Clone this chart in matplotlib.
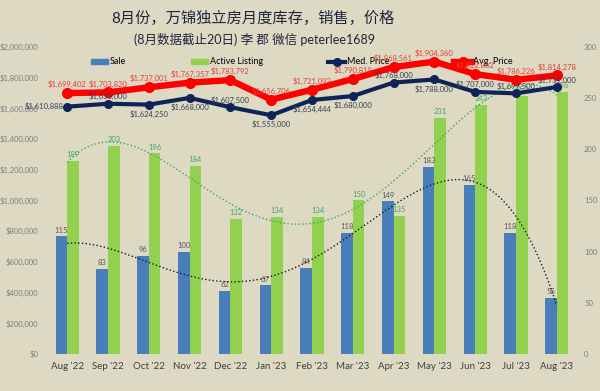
"""8月份 万锦独立房 月度库存/销售/价格 combo chart."""

import matplotlib
matplotlib.use("Agg")

import matplotlib.pyplot as plt
import numpy as np
from matplotlib.lines import Line2D
from matplotlib.patches import Patch

plt.rcParams["font.family"] = ["Lato", "Noto Sans CJK SC", "DejaVu Sans"]

# ---------------------------------------------------------------------------
# Data
# ---------------------------------------------------------------------------
months = ["Aug '22", "Sep '22", "Oct '22", "Nov '22", "Dec '22", "Jan '23",
          "Feb '23", "Mar '23", "Apr '23", "May '23", "Jun '23", "Jul '23",
          "Aug '23"]
sale = [115, 83, 96, 100, 62, 67, 84, 118, 149, 183, 165, 118, 55]
active = [189, 203, 196, 184, 132, 134, 134, 150, 135, 231, 243, 252, 256]
med_price = [1610888, 1630000, 1624250, 1668000, 1607500, 1555000, 1654444,
             1680000, 1768000, 1788000, 1707000, 1697500, 1739000]
avg_price = [1699402, 1703820, 1737001, 1767357, 1783792, 1656706, 1721093,
             1790818, 1868561, 1904360, 1822862, 1786226, 1814278]

# where the median-price label sits relative to its point
med_pos = ["left", "above", "below", "below", "above", "below", "below",
           "below", "above", "below", "above", "above", "above"]

# ---------------------------------------------------------------------------
# Style
# ---------------------------------------------------------------------------
BG = "#DDD9C3"
C_SALE = "#4A7EBB"
C_ACT = "#92D050"
C_ACT_TXT = "#3DAA5A"
C_MED = "#0E2458"
C_AVG = "#FF0000"
C_AVG_TXT = "#E2403A"
C_MED_TXT = "#3B4057"
C_GRAY = "#595959"
LBL = 5.5

fig = plt.figure(figsize=(6.0, 3.91), dpi=100, facecolor=BG)
ax = fig.add_axes([0.078, 0.0946, 0.884, 0.7854])   # bars (right scale)
ax2 = ax.twinx()                                     # prices (left scale)
ax.set_facecolor(BG)
ax2.patch.set_visible(False)

x = np.arange(len(months))
bw = 0.285

# ── Bars ───────────────────────────────────────────────────────────────────
ax.bar(x - bw / 2, sale, bw, color=C_SALE, zorder=2)
ax.bar(x + bw / 2, active, bw, color=C_ACT, zorder=2)

for xi, v in zip(x, sale):
    ax.annotate(str(v), (xi - bw / 2, v), xytext=(0, 2), textcoords="offset points",
                ha="center", va="bottom", fontsize=LBL, color=C_GRAY, zorder=3)
for xi, v in zip(x, active):
    ax.annotate(str(v), (xi + bw / 2, v), xytext=(0, 2), textcoords="offset points",
                ha="center", va="bottom", fontsize=LBL, color=C_ACT_TXT, zorder=3)

# Polynomial trendlines
xs = np.linspace(0, 12, 300)
p_sale = np.polynomial.Polynomial.fit(x, sale, 4)
p_act = np.polynomial.Polynomial.fit(x, active, 4)
ax.plot(xs, p_sale(xs), ":", color="#1a1a1a", lw=1.0, zorder=3)
ax.plot(xs, p_act(xs), ":", color=C_ACT_TXT, lw=1.0, zorder=3)

ax.set_ylim(0, 300)
ax.set_yticks(np.arange(0, 301, 50))
ax.set_xlim(-0.5, 12.5)
ax.set_xticks(x)
ax.set_xticklabels(months)
ax.yaxis.tick_right()
ax.tick_params(axis="y", length=0, pad=5, labelsize=5.5, labelcolor="#7F7F7F")
ax.tick_params(axis="x", length=0, pad=6, labelsize=7, labelcolor="#404040")

# ── Price lines ────────────────────────────────────────────────────────────
ax2.plot(x, avg_price, "-o", color=C_AVG, lw=4.6, ms=7, zorder=4)
ax2.plot(x, med_price, "-o", color=C_MED, lw=3.0, ms=5.5, zorder=5)

for xi, v in zip(x, avg_price):
    ax2.annotate(f"${v:,}", (xi, v), xytext=(0, 3.5), textcoords="offset points",
                 ha="center", va="bottom", fontsize=LBL, color=C_AVG_TXT, zorder=6)
for xi, v, pos in zip(x, med_price, med_pos):
    if pos == "left":
        off, ha, va = (-3, 0), "right", "center"
    elif pos == "above":
        off, ha, va = (0, 2.5), "center", "bottom"
    else:
        off, ha, va = (0, -4), "center", "top"
    ax2.annotate(f"${v:,}", (xi, v), xytext=off, textcoords="offset points",
                 ha=ha, va=va, fontsize=LBL, color=C_MED_TXT, zorder=6)

ax2.set_ylim(0, 2000000)
ax2.set_yticks(np.arange(0, 2000001, 200000))
ax2.set_yticklabels([f"${v:,}" for v in range(0, 2000001, 200000)])
ax2.yaxis.tick_left()
ax2.tick_params(axis="y", length=0, pad=6, labelsize=5.5, labelcolor="#7F7F7F")

for a in (ax, ax2):
    for s in a.spines.values():
        s.set_visible(False)

# ── Legend ─────────────────────────────────────────────────────────────────
handles = [
    Patch(color=C_SALE),
    Patch(color=C_ACT),
    Line2D([], [], color=C_MED, lw=3, marker="o", ms=5.5),
    Line2D([], [], color=C_AVG, lw=4.6, marker="o", ms=7),
]
ax2.legend(handles, ["Sale", "Active Listing", "Med. Price", "Avg. Price"],
           ncol=4, loc="center", bbox_to_anchor=(0.481, 0.951), frameon=False,
           fontsize=6.5, columnspacing=7.2, handlelength=1.9, handletextpad=0.2,
           handleheight=0.5)

# ── Titles ─────────────────────────────────────────────────────────────────
fig.text(0.422, 0.954, "8月份，万锦独立房月度库存，销售，价格", ha="center",
         va="center", fontsize=11, color="#1F2540")
fig.text(0.424, 0.898, "(8月数据截止20日) 李 郡 微信 peterlee1689", ha="center",
         va="center", fontsize=9, color="#1F2540")

fig.savefig("out.png", dpi=100, facecolor=BG)
